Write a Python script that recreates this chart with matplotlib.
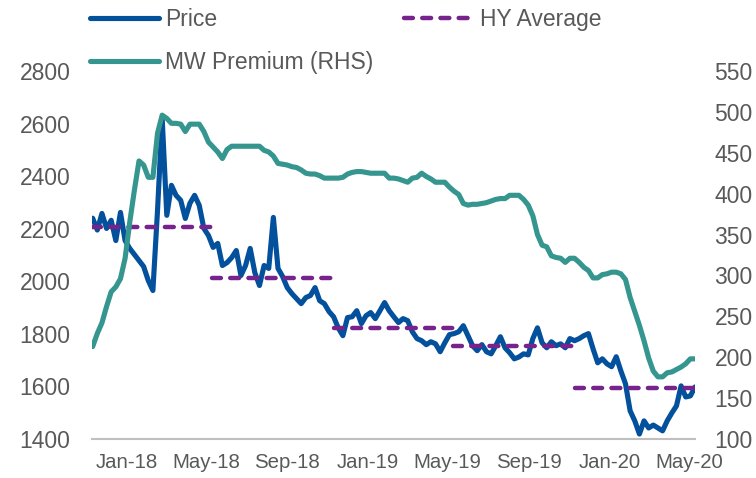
import matplotlib
matplotlib.use("Agg")
import matplotlib.pyplot as plt
import pandas as pd

# weekly observations, Jan-2018 .. Jun-2020
dates = pd.date_range("2018-01-02", periods=131, freq="7D")

price = [2240, 2195, 2258, 2201, 2232, 2155, 2262, 2155, 2125, 2102,
         2079, 2056, 2003, 1965, 2270, 2621, 2251, 2365, 2327, 2308,
         2239, 2297, 2327, 2289, 2201, 2174, 2129, 2144, 2060, 2071,
         2090, 2117, 2022, 2060, 2125, 2033, 1984, 2060, 2049, 2243,
         2049, 2018, 1976, 1953, 1934, 1915, 1938, 1946, 1976, 1926,
         1915, 1885, 1865, 1823, 1793, 1862, 1865, 1888, 1839, 1869,
         1881, 1858, 1888, 1919, 1888, 1865, 1843, 1858, 1850, 1808,
         1782, 1774, 1759, 1770, 1762, 1732, 1766, 1797, 1801, 1808,
         1831, 1793, 1755, 1736, 1759, 1732, 1724, 1755, 1789, 1747,
         1728, 1705, 1712, 1724, 1720, 1782, 1823, 1766, 1747, 1770,
         1755, 1762, 1747, 1782, 1774, 1782, 1793, 1801, 1743, 1690,
         1705, 1686, 1675, 1713, 1659, 1610, 1507, 1469, 1419, 1469,
         1442, 1453, 1442, 1431, 1469, 1499, 1526, 1602, 1560, 1564,
         1598]

mw_premium = [213, 229, 242, 262, 280, 286, 296, 321, 365, 404,
              440, 435, 420, 420, 474, 496, 492, 486, 486, 485,
              476, 485, 485, 485, 476, 463, 457, 451, 443, 454,
              458, 458, 458, 458, 458, 458, 458, 453, 451, 446,
              437, 436, 435, 433, 432, 429, 425, 424, 424, 422,
              419, 419, 419, 419, 420, 424, 426, 427, 427, 426,
              425, 425, 425, 425, 419, 419, 418, 416, 414, 419,
              420, 425, 421, 418, 414, 414, 414, 408, 403, 399,
              388, 386, 387, 387, 388, 389, 391, 393, 394, 394,
              398, 398, 398, 393, 386, 373, 350, 337, 335, 324,
              322, 321, 316, 321, 321, 316, 310, 306, 297, 297,
              301, 302, 304, 304, 302, 295, 273, 256, 239, 220,
              199, 183, 176, 176, 181, 182, 185, 188, 192, 198,
              198]

# half-year averages
hy_start = ["2018-01-01", "2018-07-01", "2019-01-01", "2019-07-01", "2020-01-01"]
hy_end = ["2018-07-01", "2019-01-01", "2019-07-01", "2020-01-01", "2020-06-30"]
hy_avg = [2205, 2014, 1823, 1755, 1595]

tick_months = ["2018-01-01", "2018-05-01", "2018-09-01", "2019-01-01",
               "2019-05-01", "2019-09-01", "2020-01-01", "2020-05-01"]
tick_labels = ["Jan-18", "May-18", "Sep-18", "Jan-19",
               "May-19", "Sep-19", "Jan-20", "May-20"]

BLUE = "#03509c"
TEAL = "#35958f"
PURPLE = "#76238c"
GREY_TXT = "#595959"

plt.rcParams["font.family"] = ["Liberation Sans", "DejaVu Sans"]

fig = plt.figure(figsize=(7.56, 4.78), dpi=100)
ax = fig.add_axes([92 / 756, 1 - 439 / 478, 603 / 756, 368 / 478])
ax2 = ax.twinx()

ln_price, = ax.plot(dates, price, color=BLUE, lw=3.7, solid_joinstyle="round",
                    solid_capstyle="round", label="Price", zorder=2)
for s, e, v in zip(hy_start, hy_end, hy_avg):
    ln_hy, = ax.plot(pd.to_datetime([s, e]), [v, v], color=PURPLE, lw=3.2,
                     dashes=(2.0, 2.1), dash_capstyle="round", label="HY Average", zorder=3)
ln_mw, = ax2.plot(dates, mw_premium, color=TEAL, lw=3.7, solid_joinstyle="round",
                  solid_capstyle="round", label="MW Premium (RHS)")

ax.set_zorder(ax2.get_zorder() - 1)
ax.patch.set_visible(False)

ax.set_xlim(pd.Timestamp("2018-01-01"), pd.Timestamp("2020-06-30"))
ax.set_ylim(1400, 2800)
ax2.set_ylim(100, 550)
ax.set_yticks(range(1400, 2801, 200))
ax2.set_yticks(range(100, 551, 50))

# excel centres each label ~7 weeks past the month start
ax.set_xticks(pd.to_datetime(tick_months) + pd.Timedelta(days=52))
ax.set_xticklabels(tick_labels)

for a in (ax, ax2):
    for sp in a.spines.values():
        sp.set_visible(False)
    a.tick_params(length=0, colors=GREY_TXT)
ax.spines["bottom"].set_visible(True)
ax.spines["bottom"].set_color("#bfbfbf")
ax.spines["bottom"].set_linewidth(1.5)
ax.tick_params(axis="y", labelsize=16.5, pad=15.5)
ax.tick_params(axis="x", labelsize=14.7, pad=10)
ax2.tick_params(axis="y", labelsize=16.5, pad=14)

fig.legend([ln_price, ln_mw, ln_hy], ["Price", "MW Premium (RHS)", "HY Average"],
           ncol=2, loc="upper left", bbox_to_anchor=(76 / 756, 1.013), frameon=False,
           fontsize=16.5, labelcolor=GREY_TXT, handlelength=3.0, handletextpad=0.3,
           columnspacing=1.33, labelspacing=0.9, borderpad=0.1)

fig.savefig("out.png", dpi=100)
